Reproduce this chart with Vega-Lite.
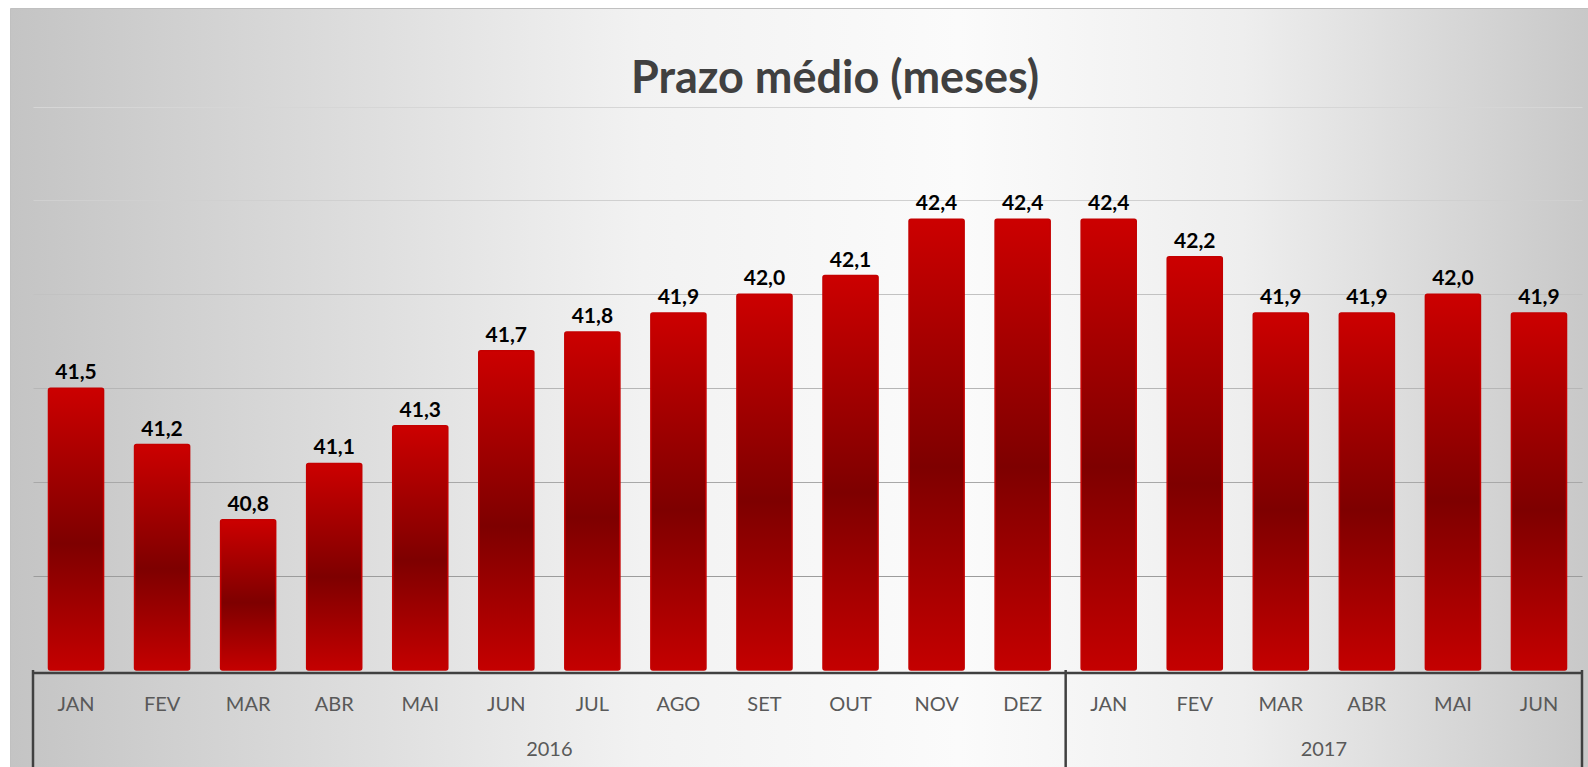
{
  "$schema": "https://vega.github.io/schema/vega-lite/v6.json",
  "width": 1580,
  "height": 760,
  "autosize": {"type": "none"},
  "padding": {"left": 10, "top": 8, "right": 0, "bottom": 0},
  "background": "#ffffff",
  "config": {
    "font": "Lato",
    "locale": {"number": {"decimal": ",", "thousands": ".", "grouping": [3], "currency": ["R$", ""]}},
    "view": {
      "stroke": "#c0c0c0",
      "strokeWidth": 1,
      "fill": {
        "gradient": "linear", "x1": 0, "y1": 0.5, "x2": 1, "y2": 0.5,
        "stops": [
          {"offset": 0, "color": "#c4c4c4"},
          {"offset": 0.4, "color": "#f2f2f2"},
          {"offset": 0.6, "color": "#fbfbfb"},
          {"offset": 0.78, "color": "#eeeeee"},
          {"offset": 1, "color": "#c8c8c8"}
        ]
      }
    }
  },
  "title": {
    "text": "Prazo médio (meses)",
    "font": "Lato",
    "fontSize": 45,
    "fontWeight": "bold",
    "color": "#404040",
    "anchor": "middle",
    "frame": "group",
    "baseline": "alphabetic",
    "offset": -130,
    "dx": 35
  },
  "data": {
    "values": [
      {"periodo": "JAN 2016", "mes": "JAN", "ano": "2016", "prazo": 41.5},
      {"periodo": "FEV 2016", "mes": "FEV", "ano": "2016", "prazo": 41.2},
      {"periodo": "MAR 2016", "mes": "MAR", "ano": "2016", "prazo": 40.8},
      {"periodo": "ABR 2016", "mes": "ABR", "ano": "2016", "prazo": 41.1},
      {"periodo": "MAI 2016", "mes": "MAI", "ano": "2016", "prazo": 41.3},
      {"periodo": "JUN 2016", "mes": "JUN", "ano": "2016", "prazo": 41.7},
      {"periodo": "JUL 2016", "mes": "JUL", "ano": "2016", "prazo": 41.8},
      {"periodo": "AGO 2016", "mes": "AGO", "ano": "2016", "prazo": 41.9},
      {"periodo": "SET 2016", "mes": "SET", "ano": "2016", "prazo": 42.0},
      {"periodo": "OUT 2016", "mes": "OUT", "ano": "2016", "prazo": 42.1},
      {"periodo": "NOV 2016", "mes": "NOV", "ano": "2016", "prazo": 42.4},
      {"periodo": "DEZ 2016", "mes": "DEZ", "ano": "2016", "prazo": 42.4},
      {"periodo": "JAN 2017", "mes": "JAN", "ano": "2017", "prazo": 42.4},
      {"periodo": "FEV 2017", "mes": "FEV", "ano": "2017", "prazo": 42.2},
      {"periodo": "MAR 2017", "mes": "MAR", "ano": "2017", "prazo": 41.9},
      {"periodo": "ABR 2017", "mes": "ABR", "ano": "2017", "prazo": 41.9},
      {"periodo": "MAI 2017", "mes": "MAI", "ano": "2017", "prazo": 42.0},
      {"periodo": "JUN 2017", "mes": "JUN", "ano": "2017", "prazo": 41.9}
    ]
  },
  "layer": [
    {
      "mark": {
        "type": "bar",
        "cornerRadius": 2,
        "stroke": "#c40000",
        "strokeWidth": 1.5,
        "color": {
          "gradient": "linear", "x1": 0, "y1": 0, "x2": 0, "y2": 1,
          "stops": [
            {"offset": 0, "color": "#cc0000"},
            {"offset": 0.55, "color": "#7e0000"},
            {"offset": 1, "color": "#c40000"}
          ]
        }
      },
      "encoding": {
        "x": {
          "field": "periodo", "type": "nominal", "sort": null,
          "scale": {"range": [23, 1572], "paddingInner": 0.36, "paddingOuter": 0.18},
          "axis": {
            "orient": "bottom",
            "title": null,
            "offset": -95.5,
            "zindex": 1,
            "domain": true,
            "domainColor": "#404040",
            "domainWidth": 2.5,
            "ticks": false,
            "tickSize": 0,
            "labelAngle": 0,
            "labelPadding": 31.5,
            "labelBaseline": "middle",
            "labelFont": "Lato",
            "labelFontSize": 20,
            "labelColor": "#595959",
            "labelOverlap": false,
            "labelExpr": "split(datum.label, ' ')[0]"
          }
        },
        "y": {
          "field": "prazo", "type": "quantitative",
          "scale": {"domain": [40, 43], "range": [662, 98.5], "zero": false, "nice": false},
          "axis": {
            "title": null,
            "labels": false,
            "ticks": false,
            "domain": false,
            "grid": true,
            "values": [40.5, 41, 41.5, 42, 42.5, 43],
            "gridWidth": 1.2,
            "gridColor": {
              "condition": [
                {"test": "datum.value >= 42.75", "value": "#d6d6d6"},
                {"test": "datum.value >= 42.25", "value": "#d0d0d0"},
                {"test": "datum.value >= 41.75", "value": "#c2c2c2"},
                {"test": "datum.value >= 41.25", "value": "#b6b6b6"},
                {"test": "datum.value >= 40.75", "value": "#a8a8a8"}
              ],
              "value": "#9c9c9c"
            }
          }
        },
        "y2": {"datum": 40}
      }
    },
    {
      "mark": {"type": "text", "font": "Lato", "fontSize": 21, "fontWeight": "bold", "color": "#000000", "baseline": "alphabetic", "dy": -9},
      "encoding": {
        "x": {"field": "periodo", "type": "nominal", "sort": null},
        "y": {"field": "prazo", "type": "quantitative"},
        "text": {"field": "prazo", "type": "quantitative", "format": ".1f"}
      }
    },
    {
      "transform": [{"filter": "datum.mes == 'JAN'"}],
      "mark": {"type": "rule", "color": "#404040", "strokeWidth": 2.5},
      "encoding": {
        "x": {"field": "periodo", "type": "nominal", "sort": null, "bandPosition": -0.28125},
        "y": {"datum": 40},
        "y2": {"datum": 39.4}
      }
    },
    {
      "transform": [{"filter": "datum.periodo == 'JUN 2017'"}],
      "mark": {"type": "rule", "color": "#404040", "strokeWidth": 2.5},
      "encoding": {
        "x": {"field": "periodo", "type": "nominal", "sort": null, "bandPosition": 1.28125},
        "y": {"datum": 40},
        "y2": {"datum": 39.4}
      }
    },
    {
      "transform": [{"filter": "datum.periodo == 'JUN 2016' || datum.periodo == 'MAR 2017'"}],
      "mark": {"type": "text", "font": "Lato", "fontSize": 20, "color": "#595959", "baseline": "middle"},
      "encoding": {
        "x": {"field": "periodo", "type": "nominal", "sort": null, "bandPosition": 1.28125},
        "y": {"datum": 39.574},
        "text": {"field": "ano", "type": "nominal"}
      }
    }
  ]
}
